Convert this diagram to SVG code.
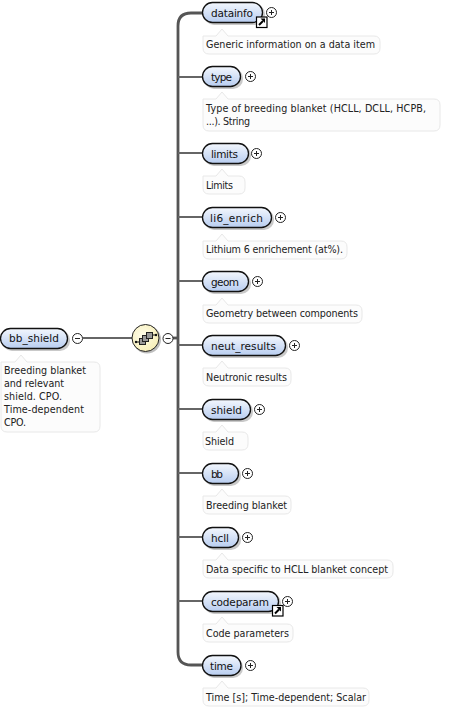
<svg xmlns="http://www.w3.org/2000/svg" width="463" height="711" viewBox="0 0 463 711">
<style>
text{font-family:"DejaVu Sans",Verdana,sans-serif;font-size:9.600px;fill:#222;lengthAdjust:spacing}
.lab{font-size:10.500px;fill:#111}
.pill{fill:url(#g);stroke:#111;stroke-width:1.300}
.sh{fill:#888;opacity:.45}
.doc{fill:#fcfcfc;stroke:#e8e8e8;stroke-width:1}
.pm{fill:#fff;stroke:#222;stroke-width:1}
.pmx{stroke:#222;stroke-width:1;fill:none}
.c{stroke:#666;stroke-width:2;fill:none}
.stem{stroke:#555;stroke-width:2.800;fill:none}
</style>
<defs>
<linearGradient id="g" x1="0" y1="0" x2="0" y2="1"><stop offset="0" stop-color="#f3f7fd"/><stop offset="1" stop-color="#b8cdf0"/></linearGradient>
<radialGradient id="y" cx=".4" cy=".4" r=".7"><stop offset="0" stop-color="#fffdea"/><stop offset="1" stop-color="#f6edb2"/></radialGradient>
<g id="plus"><circle class="pm" r="5"/><path class="pmx" d="M-2.500 0H2.500M0-2.500V2.500"/></g>
<g id="minus"><circle class="pm" r="5"/><path class="pmx" d="M-2.500 0H2.500"/></g>
<g id="ln"><rect x="-5" y="-5" width="10.500" height="10.500" fill="#fff" stroke="#000" stroke-width="1.200"/><path d="M-2.500 3L1.500 -1" stroke="#000" stroke-width="2" fill="none"/><path d="M-1 -3.500H3.500V1Z" fill="#000"/></g>
</defs>

<g id="connectors">
<path class="c" d="M83 338H132"/>
<path class="stem" d="M173 338H178"/>
<path class="stem" d="M202 13H191Q178 13 178 26V652Q178 665 191 665H202"/>
<path class="c" d="M178 77H202M178 153H202M178 217H202M178 281H202M178 345H202M178 409H202M178 473H202M178 537H202M178 601H202"/>
</g>

<g id="bb_shield">
<rect class="sh" x="2" y="330" width="68" height="21" rx="10"/>
<rect class="pill" x="0.500" y="328.500" width="67" height="20" rx="10"/>
<text class="lab" x="9" y="342" textLength="50">bb_shield</text>
<use href="#minus" x="77.500" y="338.500"/>
<path class="doc" d="M1 362H15L21 355L27 362H94Q100 362 100 368V426Q100 432 94 432H7Q1 432 1 426Z"/>
<text x="4" y="374" textLength="82">Breeding blanket</text><text x="4" y="387" textLength="60">and relevant</text><text x="4" y="400" textLength="58">shield. CPO.</text><text x="4" y="413" textLength="80">Time-dependent</text><text x="4" y="426" textLength="22">CPO.</text>
</g>

<g id="sequence">
<circle cx="147" cy="339.500" r="14" fill="#888" opacity=".55"/>
<circle cx="145.500" cy="338" r="13.500" fill="url(#y)" stroke="#222"/>
<path d="M136 342H140M152 335H156" stroke="#111" fill="none"/>
<circle cx="136" cy="342" r="1.200" fill="#111"/><circle cx="156" cy="335" r="1.200" fill="#111"/>
<rect x="139.500" y="338.500" width="6" height="6" fill="#999" stroke="#222"/>
<rect x="142.500" y="335.500" width="6" height="6" fill="#999" stroke="#222"/>
<rect x="146.500" y="332.500" width="6" height="6" fill="#999" stroke="#222"/>
<use href="#minus" x="168" y="338.500"/>
</g>

<g id="dataInfo">
<rect class="sh" x="204" y="4" width="61" height="21" rx="10"/>
<rect class="pill" x="202.500" y="2.500" width="60" height="20" rx="10"/>
<text class="lab" x="211" y="17" textLength="42">datainfo</text>
<use href="#ln" x="261.500" y="22"/>
<use href="#plus" x="271.500" y="12.500"/>
<path class="doc" d="M203 36H216L222 29L228 36H374Q380 36 380 42V48Q380 54 374 54H209Q203 54 203 48Z"/>
<text x="206" y="48" textLength="169">Generic information on a data item</text>
</g>

<g id="type">
<rect class="sh" x="204" y="68" width="39" height="21" rx="10"/>
<rect class="pill" x="202.500" y="66.500" width="38" height="20" rx="10"/>
<text class="lab" x="211" y="81" textLength="21">type</text>
<use href="#plus" x="250.500" y="76.500"/>
<path class="doc" d="M203 99H216L222 92L228 99H434Q440 99 440 105V125Q440 131 434 131H209Q203 131 203 125Z"/>
<text x="206" y="112" textLength="220">Type of breeding blanket (HCLL, DCLL, HCPB,</text><text x="206" y="125" textLength="44">...). String</text>
</g>

<g id="limits">
<rect class="sh" x="204" y="145" width="47" height="21" rx="10"/>
<rect class="pill" x="202.500" y="143.500" width="46" height="20" rx="10"/>
<text class="lab" x="211" y="158" textLength="27">limits</text>
<use href="#plus" x="256.500" y="153.500"/>
<path class="doc" d="M203 176H216L222 169L228 176H239Q245 176 245 182V188Q245 194 239 194H209Q203 194 203 188Z"/>
<text x="206" y="189" textLength="27">Limits</text>
</g>

<g id="li6_enrich">
<rect class="sh" x="204" y="209" width="70" height="21" rx="10"/>
<rect class="pill" x="202.500" y="207.500" width="69" height="20" rx="10"/>
<text class="lab" x="210" y="222" textLength="53">li6_enrich</text>
<use href="#plus" x="280.500" y="217.500"/>
<path class="doc" d="M203 241H216L222 234L228 241H341Q347 241 347 247V253Q347 259 341 259H209Q203 259 203 253Z"/>
<text x="206" y="253" textLength="137">Lithium 6 enrichement (at%).</text>
</g>

<g id="geom">
<rect class="sh" x="204" y="273" width="47" height="21" rx="10"/>
<rect class="pill" x="202.500" y="271.500" width="46" height="20" rx="10"/>
<text class="lab" x="211" y="286" textLength="28">geom</text>
<use href="#plus" x="257.500" y="281.500"/>
<path class="doc" d="M203 305H216L222 298L228 305H356Q362 305 362 311V317Q362 323 356 323H209Q203 323 203 317Z"/>
<text x="206" y="317" textLength="152">Geometry between components</text>
</g>

<g id="neut_results">
<rect class="sh" x="204" y="337" width="84" height="21" rx="10"/>
<rect class="pill" x="202.500" y="335.500" width="83" height="20" rx="10"/>
<text class="lab" x="211" y="350" textLength="65">neut_results</text>
<use href="#plus" x="294.500" y="345.500"/>
<path class="doc" d="M203 368H216L222 361L228 368H285Q291 368 291 374V380Q291 386 285 386H209Q203 386 203 380Z"/>
<text x="206" y="381" textLength="81">Neutronic results</text>
</g>

<g id="shield">
<rect class="sh" x="204" y="401" width="49" height="21" rx="10"/>
<rect class="pill" x="202.500" y="399.500" width="48" height="20" rx="10"/>
<text class="lab" x="211" y="414" textLength="31">shield</text>
<use href="#plus" x="259.500" y="409.500"/>
<path class="doc" d="M203 432H216L222 425L228 432H242Q248 432 248 438V444Q248 450 242 450H209Q203 450 203 444Z"/>
<text x="205" y="445" textLength="29">Shield</text>
</g>

<g id="bb">
<rect class="sh" x="204" y="465" width="37" height="21" rx="10"/>
<rect class="pill" x="202.500" y="463.500" width="36" height="20" rx="10"/>
<text class="lab" x="211" y="478" textLength="12">bb</text>
<use href="#plus" x="247.500" y="473.500"/>
<path class="doc" d="M203 496H216L222 489L228 496H285Q291 496 291 502V508Q291 514 285 514H209Q203 514 203 508Z"/>
<text x="206" y="509" textLength="81">Breeding blanket</text>
</g>

<g id="hcll">
<rect class="sh" x="204" y="529" width="37" height="21" rx="10"/>
<rect class="pill" x="202.500" y="527.500" width="36" height="20" rx="10"/>
<text class="lab" x="211" y="542" textLength="18">hcll</text>
<use href="#plus" x="247.500" y="537.500"/>
<path class="doc" d="M203 560H216L222 553L228 560H387Q393 560 393 566V572Q393 578 387 578H209Q203 578 203 572Z"/>
<text x="206" y="573" textLength="182">Data specific to HCLL blanket concept</text>
</g>

<g id="codeparam">
<rect class="sh" x="204" y="593" width="77" height="21" rx="10"/>
<rect class="pill" x="202.500" y="591.500" width="76" height="20" rx="10"/>
<text class="lab" x="211" y="606" textLength="58">codeparam</text>
<use href="#ln" x="277.500" y="610.500"/>
<use href="#plus" x="287.500" y="601.500"/>
<path class="doc" d="M203 624H216L222 617L228 624H287Q293 624 293 630V636Q293 642 287 642H209Q203 642 203 636Z"/>
<text x="206" y="637" textLength="83">Code parameters</text>
</g>

<g id="time">
<rect class="sh" x="204" y="657" width="39" height="21" rx="10"/>
<rect class="pill" x="202.500" y="655.500" width="38.500" height="20" rx="10"/>
<text class="lab" x="210" y="670" textLength="23">time</text>
<use href="#plus" x="250.500" y="665.500"/>
<path class="doc" d="M203 688H216L222 681L228 688H363Q369 688 369 694V700Q369 706 363 706H209Q203 706 203 700Z"/>
<text x="206" y="701" textLength="160">Time [s]; Time-dependent; Scalar</text>
</g>
</svg>
